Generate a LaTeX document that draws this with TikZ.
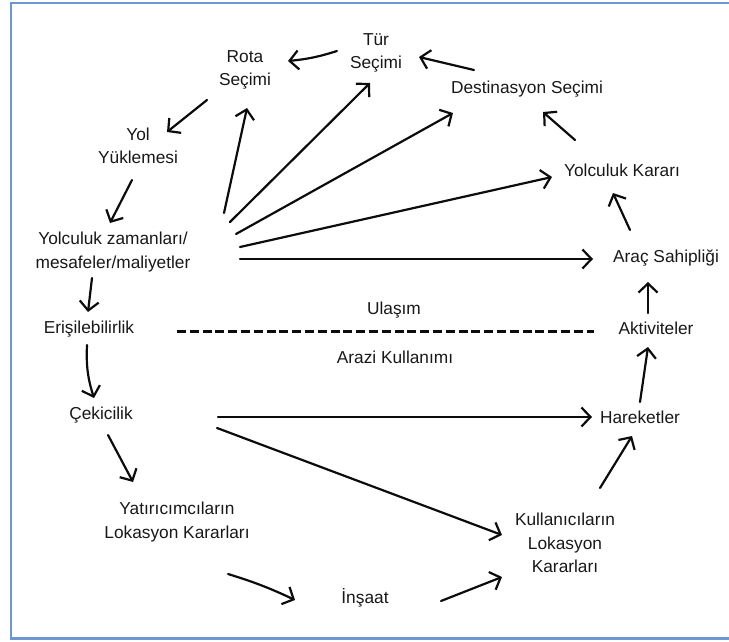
\documentclass[tikz,border=0pt]{standalone}
\usepackage{fontspec}
\setmainfont{Liberation Sans}
\usetikzlibrary{arrows.meta,calc}
\definecolor{framecol}{RGB}{108,150,212}
\definecolor{inkcol}{RGB}{12,12,12}
\definecolor{textcol}{RGB}{24,24,24}
\tikzset{
  lbl/.style={inner sep=0pt, align=center, text=textcol,
    font=\fontsize{17.3}{23.5}\selectfont},
  arr/.style={draw=inkcol, line width=2.2pt, line cap=round,
    -{Straight Barb[length=9pt,width=19pt,line width=2.2pt]}},
  divider/.style={draw=inkcol, line width=3pt, dash pattern=on 9pt off 3.8pt}
}
\begin{document}
\begin{tikzpicture}[x=1pt,y=-1pt]
\useasboundingbox (0,0) rectangle (729,642);
\clip (0,0) rectangle (729,642);
% frame
\draw[framecol, line width=2.2pt] (740,3) -- (11,3) -- (11,638.5) -- (740,638.5);

% labels
\node[lbl] (rota) at (245,70) {Rota\\Seçimi};
\node[lbl] (tur) at (376,53) {Tür\\Seçimi};
\node[lbl] (dest) at (527,89) {Destinasyon Seçimi};
\node[lbl] (yol) at (138,146) {Yol\\Yüklemesi};
\node[lbl] (yk) at (622,170) {Yolculuk Kararı};
\node[lbl] (yz) at (113,252) {Yolculuk zamanları/\\mesafeler/maliyetler};
\node[lbl] (arac) at (666,258) {Araç Sahipliği};
\node[lbl] (ulasim) at (394,310) {Ulaşım};
\node[lbl] (eris) at (89,329) {Erişilebilirlik};
\node[lbl] (akt) at (656,328) {Aktiviteler};
\node[lbl] (arazi) at (395,357) {Arazi Kullanımı};
\node[lbl] (cek) at (101,415) {Çekicilik};
\node[lbl] (har) at (640,417) {Hareketler};
\node[lbl] (yat) at (177,522) {Yatırıcımcıların\\Lokasyon Kararları};
\node[lbl] (kul) at (565,543) {Kullanıcıların\\Lokasyon\\Kararları};
\node[lbl] (insaat) at (365,598) {İnşaat};

% transport / land use divider
\draw[divider] ($(eris)+(88,2)$) -- ($(akt)+(-62,3)$);

% outer cycle
\draw[arr] ($(tur)+(-39,-2)$) to[bend left=6] ($(rota)+(43,-9)$);
\draw[arr] ($(dest)+(-53,-19)$) -- ($(tur)+(43,4)$);
\draw[arr] ($(rota)+(-38,30)$) -- ($(yol)+(29,-14)$);
\draw[arr] ($(yol)+(-6,34)$) -- ($(yz)+(-3,-29)$);
\draw[arr] ($(yz)+(-21,26)$) -- ($(eris)+(-1,-17)$);
\draw[arr] ($(eris)+(-2,16)$) to[bend right=10] ($(cek)+(-7,-17)$);
\draw[arr] ($(cek)+(7,20)$) -- ($(yat)+(-44,-40)$);
\draw[arr] ($(yat)+(51,52)$) to[bend left=4] ($(insaat)+(-70,2)$);
\draw[arr] ($(insaat)+(76,3)$) -- ($(kul)+(-63,34)$);
\draw[arr] ($(kul)+(35,-55)$) -- ($(har)+(-8,19)$);
\draw[arr] ($(har)+(0,-15)$) -- ($(akt)+(-8,19)$);
\draw[arr] ($(akt)+(-8,-15)$) -- ($(arac)+(-18,24)$);
\draw[arr] ($(arac)+(-36,-28)$) -- ($(yk)+(-9,23)$);
\draw[arr] ($(yk)+(-47,-30)$) -- ($(dest)+(16,23)$);

% fan from travel times / distances / costs
\draw[arr] ($(yz)+(111,-39)$) -- ($(rota)+(2,38)$);
\draw[arr] ($(yz)+(117,-30)$) -- ($(tur)+(-6,30)$);
\draw[arr] ($(yz)+(123,-18)$) -- ($(dest)+(-74,24)$);
\draw[arr] ($(yz)+(127,-5)$) -- ($(yk)+(-70,7)$);
\draw[arr] ($(yz)+(127,7)$) -- ($(arac)+(-73,1)$);

% attractiveness
\draw[arr] ($(cek)+(117,2)$) -- ($(har)+(-48,0)$);
\draw[arr] ($(cek)+(116,13)$) -- ($(kul)+(-63,-8)$);
\end{tikzpicture}
\end{document}
